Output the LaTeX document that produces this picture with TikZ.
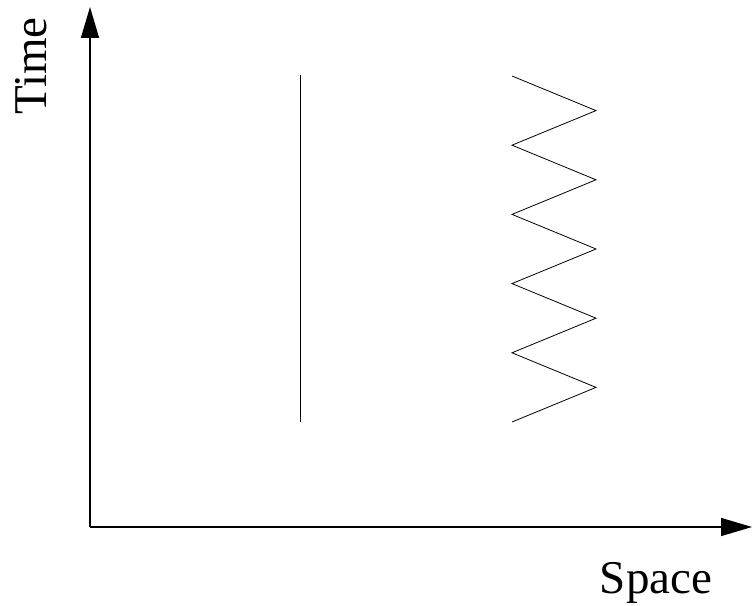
\documentclass[tikz,border=0pt]{standalone}
\usepackage{fontspec}
\setmainfont{Liberation Serif}
\usetikzlibrary{arrows.meta, positioning, calc}

\begin{document}
\begin{tikzpicture}[x=1pt, y=1pt,
    axis/.style={line width=1.5pt, -{Triangle[length=31pt, width=18pt]}},
    worldline/.style={line width=0.8pt},
    label/.style={font=\fontsize{47}{52}\selectfont, inner sep=0pt}
]
\useasboundingbox (0,0) rectangle (752,605);

% Axes
\coordinate (origin) at (90,78);
\coordinate (timeTip) at (90,598);
\coordinate (spaceTip) at (752,78);
\draw[axis] (origin) -- (timeTip);
\draw[axis] (origin) -- (spaceTip);
\node[label, rotate=90] (timeLabel) at (31,539) {Time};
\node[label] (spaceLabel) at (656,22) {Space};

% Particle at rest
\coordinate (restTop) at (300,530);
\coordinate (restBottom) at (300,183);
\draw[worldline] (restTop) -- (restBottom);

% Oscillating particle
\coordinate (zigStart) at (512,529);
\draw[worldline] (zigStart)
    \foreach \k in {1,...,10} {
        -- ({512 + 84*mod(\k,2)}, {529 - 34.6*\k})
    };

\end{tikzpicture}
\end{document}
